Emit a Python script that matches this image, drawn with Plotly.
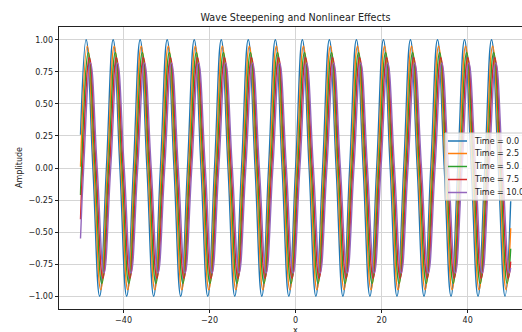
import plotly.graph_objects as go

# ---- data: key points (start, zero crossings, crests/troughs, end) ----
series_names = ["Time = 0.0", "Time = 2.5", "Time = 5.0", "Time = 7.5", "Time = 10.0"]
series_colors = ["#1f77b4", "#ff7f0e", "#2ca02c", "#d62728", "#9467bd"]

x_t00 = [-50.0,
         -48.69, -47.12, -45.55, -43.98, -42.41, -40.84, -39.27, -37.70, -36.13, -34.56, -32.99, -31.42,
         -29.85, -28.27, -26.70, -25.13, -23.56, -21.99, -20.42, -18.85, -17.28, -15.71, -14.14, -12.57,
         -11.00, -9.42, -7.85, -6.28, -4.71, -3.14, -1.57, 0.00, 1.57, 3.14, 4.71, 6.28, 7.85, 9.42,
         11.00, 12.57, 14.14, 15.71, 17.28, 18.85, 20.42, 21.99, 23.56, 25.13, 26.70, 28.27, 29.85,
         31.42, 32.99, 34.56, 36.13, 37.70, 39.27, 40.84, 42.41, 43.98, 45.55, 47.12, 48.69,
         50.0]
y_t00 = [0.26,
         1, 0, -1, 0, 1, 0, -1, 0, 1, 0, -1, 0, 1, 0, -1, 0,
         1, 0, -1, 0, 1, 0, -1, 0, 1, 0, -1, 0, 1, 0, -1, 0,
         1, 0, -1, 0, 1, 0, -1, 0, 1, 0, -1, 0, 1, 0, -1, 0,
         1, 0, -1, 0, 1, 0, -1, 0, 1, 0, -1, 0,
         1, 0, -1,
         -0.26]

x_t25 = [-50.0,
         -48.44, -46.87, -45.30, -43.73, -42.16, -40.59, -39.02, -37.45, -35.88, -34.31, -32.74, -31.17,
         -29.60, -28.02, -26.45, -24.88, -23.31, -21.74, -20.17, -18.60, -17.03, -15.46, -13.89, -12.32,
         -10.75, -9.17, -7.60, -6.03, -4.46, -2.89, -1.32, 0.25, 1.82, 3.39, 4.96, 6.53, 8.10, 9.67,
         11.25, 12.82, 14.39, 15.96, 17.53, 19.10, 20.67, 22.24, 23.81, 25.38, 26.95, 28.52, 30.10,
         31.67, 33.24, 34.81, 36.38, 37.95, 39.52, 41.09, 42.66, 44.23, 45.80, 47.37, 48.94,
         50.0]
y_t25 = [0.01,
         0.95, 0, -0.95, 0, 0.95, 0, -0.95, 0, 0.95, 0, -0.95, 0, 0.95, 0, -0.95, 0,
         0.95, 0, -0.95, 0, 0.95, 0, -0.95, 0, 0.95, 0, -0.95, 0, 0.95, 0, -0.95, 0,
         0.95, 0, -0.95, 0, 0.95, 0, -0.95, 0, 0.95, 0, -0.95, 0, 0.95, 0, -0.95, 0,
         0.95, 0, -0.95, 0, 0.95, 0, -0.95, 0, 0.95, 0, -0.95, 0,
         0.95, 0, -0.95,
         -0.47]

x_t50 = [-50.0, -49.77,
         -48.19, -46.62, -45.05, -43.48, -41.91, -40.34, -38.77, -37.20, -35.63, -34.06, -32.49, -30.92,
         -29.35, -27.77, -26.20, -24.63, -23.06, -21.49, -19.92, -18.35, -16.78, -15.21, -13.64, -12.07,
         -10.50, -8.92, -7.35, -5.78, -4.21, -2.64, -1.07, 0.50, 2.07, 3.64, 5.21, 6.78, 8.35, 9.92,
         11.50, 13.07, 14.64, 16.21, 17.78, 19.35, 20.92, 22.49, 24.06, 25.63, 27.20, 28.77, 30.35,
         31.92, 33.49, 35.06, 36.63, 38.20, 39.77, 41.34, 42.91, 44.48, 46.05, 47.62, 49.19,
         50.0]
y_t50 = [-0.21, 0,
         0.90, 0, -0.90, 0, 0.90, 0, -0.90, 0, 0.90, 0, -0.90, 0, 0.90, 0, -0.90, 0,
         0.90, 0, -0.90, 0, 0.90, 0, -0.90, 0, 0.90, 0, -0.90, 0, 0.90, 0, -0.90, 0,
         0.90, 0, -0.90, 0, 0.90, 0, -0.90, 0, 0.90, 0, -0.90, 0, 0.90, 0, -0.90, 0,
         0.90, 0, -0.90, 0, 0.90, 0, -0.90, 0, 0.90, 0, -0.90, 0,
         0.90, 0, -0.90,
         -0.63]

x_t75 = [-50.0, -49.52,
         -47.94, -46.37, -44.80, -43.23, -41.66, -40.09, -38.52, -36.95, -35.38, -33.81, -32.24, -30.67,
         -29.10, -27.52, -25.95, -24.38, -22.81, -21.24, -19.67, -18.10, -16.53, -14.96, -13.39, -11.82,
         -10.25, -8.67, -7.10, -5.53, -3.96, -2.39, -0.82, 0.75, 2.32, 3.89, 5.46, 7.03, 8.60, 10.17,
         11.75, 13.32, 14.89, 16.46, 18.03, 19.60, 21.17, 22.74, 24.31, 25.88, 27.45, 29.02, 30.60,
         32.17, 33.74, 35.31, 36.88, 38.45, 40.02, 41.59, 43.16, 44.73, 46.30, 47.87, 49.44,
         50.0]
y_t75 = [-0.40, 0,
         0.86, 0, -0.86, 0, 0.86, 0, -0.86, 0, 0.86, 0, -0.86, 0, 0.86, 0, -0.86, 0,
         0.86, 0, -0.86, 0, 0.86, 0, -0.86, 0, 0.86, 0, -0.86, 0, 0.86, 0, -0.86, 0,
         0.86, 0, -0.86, 0, 0.86, 0, -0.86, 0, 0.86, 0, -0.86, 0, 0.86, 0, -0.86, 0,
         0.86, 0, -0.86, 0, 0.86, 0, -0.86, 0, 0.86, 0, -0.86, 0,
         0.86, 0, -0.86,
         -0.73]

x_t100 = [-50.0, -49.27,
          -47.69, -46.12, -44.55, -42.98, -41.41, -39.84, -38.27, -36.70, -35.13, -33.56, -31.99, -30.42,
          -28.85, -27.27, -25.70, -24.13, -22.56, -20.99, -19.42, -17.85, -16.28, -14.71, -13.14, -11.57,
          -10.00, -8.42, -6.85, -5.28, -3.71, -2.14, -0.57, 1.00, 2.57, 4.14, 5.71, 7.28, 8.85, 10.42,
          12.00, 13.57, 15.14, 16.71, 18.28, 19.85, 21.42, 22.99, 24.56, 26.13, 27.70, 29.27, 30.85,
          32.42, 33.99, 35.56, 37.13, 38.70, 40.27, 41.84, 43.41, 44.98, 46.55, 48.12, 49.69,
          50.0]
y_t100 = [-0.55, 0,
          0.82, 0, -0.82, 0, 0.82, 0, -0.82, 0, 0.82, 0, -0.82, 0, 0.82, 0, -0.82, 0,
          0.82, 0, -0.82, 0, 0.82, 0, -0.82, 0, 0.82, 0, -0.82, 0, 0.82, 0, -0.82, 0,
          0.82, 0, -0.82, 0, 0.82, 0, -0.82, 0, 0.82, 0, -0.82, 0, 0.82, 0, -0.82, 0,
          0.82, 0, -0.82, 0, 0.82, 0, -0.82, 0, 0.82, 0, -0.82, 0,
          0.82, 0, -0.82,
          -0.78]

x_tick_vals = [-40, -20, 0, 20, 40]
y_tick_vals = [-1.0, -0.75, -0.5, -0.25, 0.0, 0.25, 0.5, 0.75, 1.0]

xs = [x_t00, x_t25, x_t50, x_t75, x_t100]
ys = [y_t00, y_t25, y_t50, y_t75, y_t100]

FONT = "DejaVu Sans"
W, H = 522, 332
L, R, T, B = 59, 0, 27, 23
pw, ph = W - L - R, H - T - B

def px_x(p):
    return (p - L) / pw

def px_y(p):
    return (H - B - p) / ph

fig = go.Figure()
for name, color, x, y in zip(series_names, series_colors, xs, ys):
    fig.add_trace(go.Scatter(x=x, y=y, name=name, mode="lines",
                             line=dict(color=color, width=1.4, shape="spline", smoothing=1.3)))

# legend drawn as shapes + text (matplotlib-like compact legend)
shapes = [dict(type="rect", xref="paper", yref="paper", layer="above",
               x0=px_x(445), x1=px_x(540), y0=px_y(200), y1=px_y(133),
               fillcolor="rgba(255,255,255,0.8)", line=dict(color="#cccccc", width=1))]
annotations = []
leg_y = [141, 153.5, 166.5, 179.5, 192.5]
for name, color, yy in zip(series_names, series_colors, leg_y):
    shapes.append(dict(type="line", xref="paper", yref="paper", layer="above",
                       x0=px_x(448), x1=px_x(467), y0=px_y(yy), y1=px_y(yy),
                       line=dict(color=color, width=1.5)))
    annotations.append(dict(text=name, xref="paper", yref="paper", x=px_x(472), y=px_y(yy),
                            xanchor="left", yanchor="middle", showarrow=False,
                            font=dict(family=FONT, size=8, color="#222")))

# axis labels (placed like matplotlib: centred on the full axes box)
annotations.append(dict(text="x", xref="paper", yref="paper", x=px_x(295.6), y=px_y(330),
                        xanchor="center", yanchor="middle", showarrow=False,
                        font=dict(family=FONT, size=8, color="#222")))
annotations.append(dict(text="Amplitude", xref="paper", yref="paper", x=px_x(19), y=px_y(168),
                        xanchor="center", yanchor="middle", showarrow=False, textangle=-90,
                        font=dict(family=FONT, size=8, color="#222")))

fig.update_layout(
    width=W, height=H,
    margin=dict(l=L, r=R, t=T, b=B, autoexpand=False),
    paper_bgcolor="white", plot_bgcolor="white",
    showlegend=False,
    font=dict(family=FONT, size=8, color="#222"),
    title=dict(text="Wave Steepening and Nonlinear Effects", x=px_x(295.5), xref="paper",
               y=1 - 18 / H, yref="container", xanchor="center", yanchor="middle",
               font=dict(family=FONT, size=9.6, color="#222")),
    xaxis=dict(range=[-55, 52.63], tickvals=x_tick_vals, ticks="outside", ticklen=3.5,
               tickcolor="#222", tickwidth=0.8, showline=True, linecolor="#222", linewidth=0.8,
               mirror=True, showgrid=True, gridcolor="#d5d5d5", gridwidth=0.8, zeroline=False,
               tickfont=dict(family=FONT, size=8, color="#222")),
    yaxis=dict(range=[-1.1, 1.1], tickvals=y_tick_vals, tickformat=".2f", ticks="outside",
               ticklen=3.5, tickcolor="#222", tickwidth=0.8, showline=True, linecolor="#222",
               linewidth=0.8, mirror=False, showgrid=True, gridcolor="#d5d5d5", gridwidth=0.8,
               zeroline=False, tickfont=dict(family=FONT, size=8, color="#222")),
    shapes=shapes, annotations=annotations,
)

fig.write_html("out.html", config={"displayModeBar": False},
               post_script="document.body.style.margin='0px';document.body.style.overflow='hidden';")
